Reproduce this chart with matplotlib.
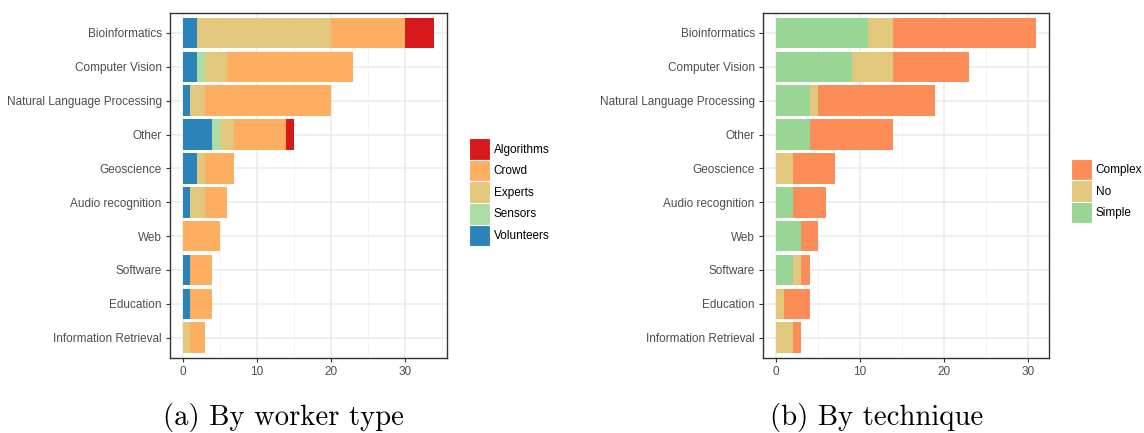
import numpy as np
import matplotlib.pyplot as plt
from matplotlib.patches import Patch

plt.rcParams['font.family'] = ['Liberation Sans', 'DejaVu Sans']

categories = ['Bioinformatics', 'Computer Vision', 'Natural Language Processing', 'Other',
              'Geoscience', 'Audio recognition', 'Web', 'Software', 'Education',
              'Information Retrieval']

# panel a: worker type (stacked left to right)
worker_names = ['Volunteers', 'Sensors', 'Experts', 'Crowd', 'Algorithms']
volunteers = [2, 2, 1, 4, 2, 1, 0, 1, 1, 0]
sensors = [0, 1, 0, 1, 0, 0, 0, 0, 0, 0]
experts = [18, 3, 2, 2, 1, 2, 0, 0, 0, 1]
crowd = [10, 17, 17, 7, 4, 3, 5, 3, 3, 2]
algorithms = [4, 0, 0, 1, 0, 0, 0, 0, 0, 0]
worker_colors = ['#2b83ba', '#abdda4', '#e2c87c', '#fdae61', '#d7191c']

# panel b: technique
tech_names = ['Simple', 'No', 'Complex']
simple = [11, 9, 4, 4, 0, 2, 3, 2, 0, 0]
no = [3, 5, 1, 0, 2, 0, 0, 1, 1, 2]
complex_ = [17, 9, 14, 10, 5, 4, 2, 1, 3, 1]
tech_colors = ['#99d594', '#e2c87c', '#fc8d59']

fig = plt.figure(figsize=(11.44, 4.33), dpi=100)
ax1 = fig.add_axes([0.1486, 0.1732, 0.2421, 0.7975])
ax2 = fig.add_axes([0.6670, 0.1732, 0.2500, 0.7975])


def stacked(ax, series, names, colors, xmax):
    y = np.arange(len(categories))
    left = np.zeros(len(categories))
    for vals, name, col in zip(series, names, colors):
        vals = np.array(vals, dtype=float)
        ax.barh(y, vals, left=left, height=0.9, color=col, label=name, zorder=3)
        left += vals
    ax.set_yticks(y)
    ax.set_yticklabels(categories)
    lo, hi = -0.05 * xmax, xmax * 1.05
    ax.set_xticks([0, 10, 20, 30])
    ax.set_xticks([m for m in [5, 15, 25, 35] if m < hi], minor=True)
    ax.set_xlim(lo, hi)
    ax.set_ylim(len(categories) - 0.4, -0.6)
    ax.grid(True, which='major', color='#ebebeb', lw=1.1, zorder=0)
    ax.grid(True, which='minor', axis='x', color='#f3f3f3', lw=0.6, zorder=0)
    ax.tick_params(which='major', length=3, color='#333333', labelsize=8.5,
                   labelcolor='#4d4d4d', width=0.8, pad=3)
    ax.tick_params(which='minor', length=0)
    for s in ax.spines.values():
        s.set_color('#333333')
        s.set_linewidth(1.0)
    ax.set_axisbelow(True)


stacked(ax1, [volunteers, sensors, experts, crowd, algorithms], worker_names, worker_colors, 34)
stacked(ax2, [simple, no, complex_], tech_names, tech_colors, 31)

leg_kw = dict(loc='center left', frameon=False, fontsize=8.5, handlelength=1.8,
              handleheight=2.44, labelspacing=0.0, handletextpad=0.3, borderaxespad=0,
              borderpad=0)
h1 = [Patch(facecolor=c, edgecolor='white', lw=0.8) for c in worker_colors][::-1]
fig.legend(h1, worker_names[::-1], bbox_to_anchor=(0.410, 0.556), **leg_kw)
h2 = [Patch(facecolor=c, edgecolor='white', lw=0.8) for c in tech_colors][::-1]
fig.legend(h2, tech_names[::-1], bbox_to_anchor=(0.936, 0.559), **leg_kw)

fig.text(0.2478, 0.019, '(a) By worker type', ha='center', va='baseline',
         fontsize=20.7, family='cmr10')
fig.text(0.766, 0.019, '(b) By technique', ha='center', va='baseline',
         fontsize=20.7, family='cmr10')

fig.savefig('out.png', dpi=100)
